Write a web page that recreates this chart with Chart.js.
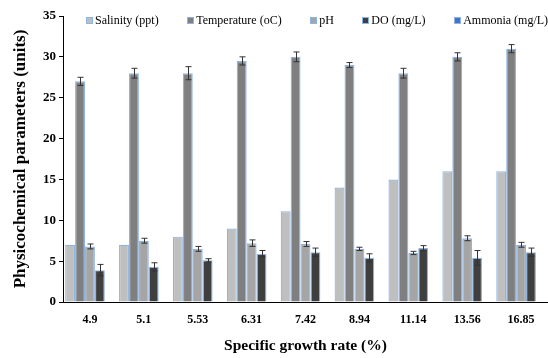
<!DOCTYPE html>
<html>
<head>
<meta charset="utf-8">
<script src="https://cdn.jsdelivr.net/npm/chart.js@4.4.1/dist/chart.umd.min.js"></script>
<style>
  html, body { margin: 0; padding: 0; background: #fff; }
  #wrap { position: relative; width: 548px; height: 358px; }
  #legend {
    position: absolute; top: 13px; left: 86px;
    display: flex; gap: 28.5px;
    font-family: "Liberation Serif", "Times New Roman", serif;
    font-size: 12px; color: #000; white-space: nowrap;
  }
  #legend span.item { display: flex; align-items: center; }
  #legend span.box { width: 5px; height: 5px; margin-right: 2px; border: 1px solid #8db4e2; }
</style>
</head>
<body>
<div id="wrap">
  <canvas id="chart" width="548" height="358"></canvas>
  <div id="legend"></div>
</div>
<script>
const categories = ['4.9', '5.1', '5.53', '6.31', '7.42', '8.94', '11.14', '13.56', '16.85'];
const seriesNames = ['Salinity (ppt)', 'Temperature (oC)', 'pH', 'DO (mg/L)', 'Ammonia (mg/L)'];

const salinity = [7, 7, 8, 9, 11.1, 14, 15, 16, 16];
const temperature = [27, 28, 28, 29.5, 30, 29, 28, 30, 31];
const ph = [6.8, 7.5, 6.5, 7.2, 7.1, 6.5, 6.0, 7.8, 7.0];
const dissolvedOxygen = [3.9, 4.3, 5.1, 5.9, 6.1, 5.4, 6.6, 5.4, 6.1];
const ammonia = [0, 0, 0, 0, 0, 0, 0, 0, 0];

const salinityErr = [0, 0, 0, 0, 0, 0, 0, 0, 0];
const temperatureErr = [0.5, 0.6, 0.8, 0.5, 0.6, 0.3, 0.6, 0.5, 0.5];
const phErr = [0.3, 0.3, 0.3, 0.4, 0.3, 0.2, 0.2, 0.3, 0.3];
const doErr = [0.7, 0.5, 0.2, 0.4, 0.5, 0.5, 0.3, 0.9, 0.5];
const ammoniaErr = [0, 0, 0, 0, 0, 0, 0, 0, 0];

const yTicks = [0, 5, 10, 15, 20, 25, 30, 35];

const fills = ['#bfbfbf', '#7f7f7f', '#a5a5a5', '#3f3f3f', '#4472c4'];
const edge = '#8db4e2';
const serif = '"Liberation Serif", "Times New Roman", serif';

const values = [salinity, temperature, ph, dissolvedOxygen, ammonia];
const errors = [salinityErr, temperatureErr, phErr, doErr, ammoniaErr];

// error bars drawn from each bar's scale position
const errorBars = {
    id: 'errorBars',
    afterDatasetsDraw(chart) {
        const ctx = chart.ctx;
        const y = chart.scales.y;
        ctx.save();
        ctx.strokeStyle = '#333';
        ctx.lineWidth = 1;
        chart.data.datasets.forEach((ds, di) => {
            const meta = chart.getDatasetMeta(di);
            ds.errors.forEach((e, i) => {
                if (!e) return;
                const bar = meta.data[i];
                const x = Math.round(bar.x) + 0.5;
                const top = y.getPixelForValue(ds.data[i] + e);
                const bottom = y.getPixelForValue(ds.data[i] - e);
                ctx.beginPath();
                ctx.moveTo(x, top); ctx.lineTo(x, bottom);
                ctx.moveTo(x - 3, top); ctx.lineTo(x + 3, top);
                ctx.moveTo(x - 3, bottom); ctx.lineTo(x + 3, bottom);
                ctx.stroke();
            });
        });
        ctx.restore();
    }
};

const datasets = seriesNames.map((name, i) => ({
    label: name,
    data: values[i],
    errors: errors[i],
    backgroundColor: fills[i],
    borderColor: edge,
    borderWidth: 1.2,
    categoryPercentage: 0.92,
    barPercentage: 1.0
}));

// legend as html text
const legend = document.getElementById('legend');
seriesNames.forEach((name, i) => {
    const item = document.createElement('span');
    item.className = 'item';
    const box = document.createElement('span');
    box.className = 'box';
    box.style.background = fills[i];
    item.appendChild(box);
    item.appendChild(document.createTextNode(name));
    legend.appendChild(item);
});

new Chart(document.getElementById('chart').getContext('2d'), {
    type: 'bar',
    data: { labels: categories, datasets: datasets },
    plugins: [errorBars],
    options: {
        responsive: false,
        animation: false,
        layout: { padding: { top: 16, left: 10, right: -10, bottom: 3 } },
        plugins: {
            legend: { display: false },
            tooltip: { enabled: false }
        },
        scales: {
            x: {
                grid: { display: false },
                border: { display: true, color: '#000', width: 1 },
                ticks: { color: '#000', font: { family: serif, size: 12, weight: 'bold' }, padding: 3 },
                title: {
                    display: true,
                    text: 'Specific growth rate (%)',
                    color: '#000',
                    font: { family: serif, size: 15.5, weight: 'bold' },
                    padding: { top: 6, bottom: 0 }
                }
            },
            y: {
                min: 0,
                max: 35,
                afterBuildTicks: s => { s.ticks = yTicks.map(v => ({ value: v })); },
                afterFit: s => { s.width = 53; },
                grid: { drawOnChartArea: false, drawTicks: true, tickLength: 4, color: '#000' },
                border: { display: true, color: '#000', width: 1 },
                ticks: { color: '#000', font: { family: serif, size: 13, weight: 'bold' }, padding: 3 },
                title: {
                    display: true,
                    text: 'Physicochemical parameters (units)',
                    color: '#000',
                    font: { family: serif, size: 17, weight: 'bold' },
                    padding: { top: 0, bottom: 4 }
                }
            }
        }
    }
});
</script>
</body>
</html>
